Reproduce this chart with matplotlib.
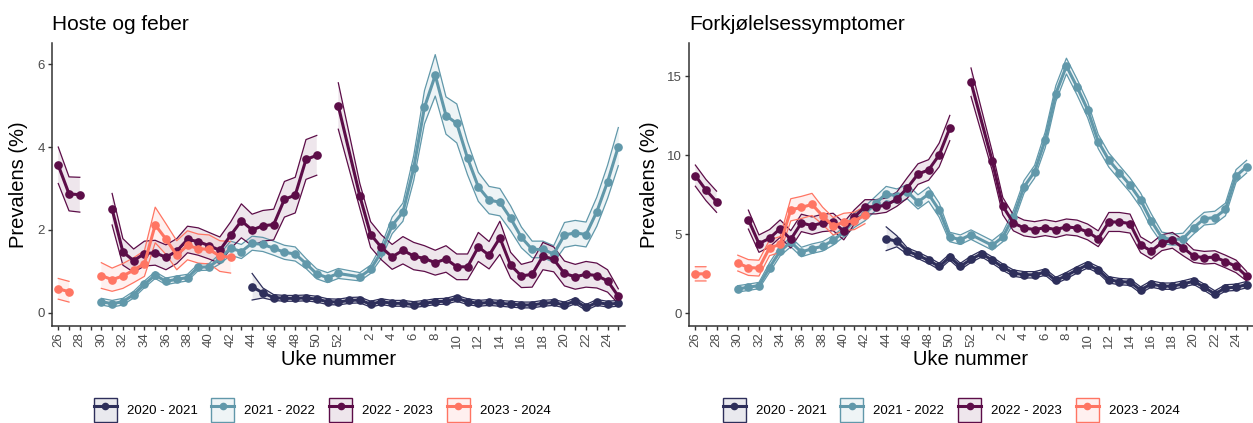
import numpy as np
import matplotlib
matplotlib.use("Agg")
import matplotlib.pyplot as pyplot
from matplotlib.lines import Line2D
from matplotlib.patches import Patch
from matplotlib.colors import to_rgba

pyplot.rcParams["font.family"] = ["Liberation Sans", "DejaVu Sans"]

# uke-rekkefølge på x-aksen: sesongen går fra uke 26 til uke 25 året etter
WEEK_ORDER = list(range(26, 54)) + list(range(1, 26))
SEASONS = ["2020 - 2021", "2021 - 2022", "2022 - 2023", "2023 - 2024"]
COLORS = ["#2E2F5B", "#6198AA", "#5C0D48", "#FF7563"]

# uker med rader i dataene (None = manglende verdi -> brudd i linja)
weeks_2021 = list(range(44, 54)) + list(range(1, 26))
weeks_2122 = list(range(30, 53)) + list(range(1, 26))
weeks_2223 = list(range(26, 53)) + list(range(1, 26))
weeks_2324 = list(range(26, 43))

# ---- Hoste og feber ----
hoste_2021 = [0.63, 0.48, 0.37, 0.35, 0.35, 0.36, 0.33, 0.27, 0.26, 0.30,
              0.31, 0.21, 0.27, 0.23, 0.23, 0.20, 0.23, 0.27, 0.28, 0.35, 0.27, 0.23, 0.25,
              0.23, 0.21, 0.19, 0.19, 0.23, 0.25, 0.19, 0.29, 0.13, 0.25, 0.21, 0.23]
hoste_2021_ci = [0.32, 0.12] + [0.07] * 33

hoste_2122 = [0.27, 0.22, 0.27, 0.44, 0.69, 0.91, 0.76, 0.81, 0.85, 1.10, 1.11,
              1.30, 1.56, 1.48, 1.68, 1.65, 1.56, 1.46, 1.42, 1.19, 0.94, 0.85, 0.95,
              0.87, 1.05, 1.47, 2.11, 2.43, 3.49, 4.96, 5.73, 4.76, 4.57, 3.73, 3.04,
              2.72, 2.67, 2.28, 1.82, 1.53, 1.53, 1.42, 1.88, 1.93, 1.89, 2.44, 3.16, 4.01]
hoste_2122_ci = [0.08] * 11 + [0.12] + [0.17] * 7 + [0.12] * 4 + \
                [0.10, 0.10, 0.15, 0.20, 0.22, 0.30, 0.40, 0.50, 0.45, 0.47, 0.40, 0.35,
                 0.33, 0.33, 0.30, 0.25, 0.20, 0.20, 0.20, 0.30, 0.30, 0.30, 0.35, 0.40, 0.46]

hoste_2223 = [3.56, 2.87, 2.85, None, None, 2.50, 1.47, 1.26, 1.43, 1.45, 1.34, 1.49,
              1.77, 1.72, 1.62, 1.51, 1.87, 2.22, 2.00, 2.10, 2.13, 2.74, 2.84, 3.70,
              3.80, None, 4.99,
              2.82, 1.89, 1.58, 1.35, 1.51, 1.37, 1.31, 1.21, 1.30, 1.11, 1.11, 1.59,
              1.39, 1.81, 1.15, 0.89, 0.93, 1.37, 1.29, 0.95, 0.87, 0.93, 0.90, 0.77, 0.40]
hoste_2223_ci = [0.44, 0.41, 0.42, None, None, 0.38, 0.32, 0.28, 0.30, 0.30, 0.30, 0.30,
                 0.32, 0.33, 0.32, 0.32, 0.32, 0.41, 0.38, 0.37, 0.37, 0.43, 0.43, 0.48,
                 0.48, None, 0.56,
                 0.30, 0.31, 0.30, 0.30, 0.33, 0.33, 0.31, 0.30, 0.32, 0.31, 0.31, 0.35,
                 0.33, 0.40, 0.31, 0.28, 0.31, 0.33, 0.30, 0.30, 0.30, 0.31, 0.30, 0.27, 0.18]

hoste_2324 = [0.58, 0.51, None, None, 0.90, 0.80, 0.89, 1.03, 1.19, 2.12, 1.78, 1.39,
              1.63, 1.55, 1.53, 1.37, 1.34]
hoste_2324_ci = [0.25, 0.25, None, None, 0.31, 0.28, 0.30, 0.30, 0.31, 0.43, 0.37, 0.35,
                 0.35, 0.35, 0.35, 0.37, 0.38]

# ---- Forkjølelsessymptomer ----
fork_2021 = [4.72, 4.56, 3.94, 3.67, 3.35, 2.97, 3.56, 2.97, 3.42, 3.77,
             3.37, 2.92, 2.55, 2.44, 2.44, 2.61, 2.08, 2.39, 2.75, 3.07, 2.75, 2.12, 2.01,
             1.97, 1.48, 1.86, 1.72, 1.72, 1.86, 2.03, 1.65, 1.23, 1.61, 1.65, 1.82]
fork_2021_ci = [0.75, 0.35] + [0.20] * 33

fork_2122 = [1.55, 1.65, 1.76, 2.90, 3.94, 4.51, 3.88, 4.09, 4.24, 4.62, 5.15,
             5.89, 6.31, 6.95, 7.58, 7.42, 7.69, 7.05, 7.54, 6.53, 4.83, 4.66, 4.98,
             4.30, 4.83, 6.10, 8.00, 8.96, 10.97, 13.90, 15.64, 14.32, 12.88, 10.87, 9.70,
             8.90, 8.11, 7.16, 5.85, 4.79, 4.66, 4.72, 5.42, 5.99, 6.06, 6.57, 8.69, 9.28]
fork_2122_ci = [0.20] * 3 + [0.30] * 8 + [0.45] * 9 + [0.30] * 5 + [0.40] * 3 + \
               [0.50] * 5 + [0.45] * 6 + [0.35] * 3 + [0.40] * 6

fork_2223 = [8.71, 7.80, 7.06, None, None, 5.93, 4.41, 4.75, 5.36, 4.68, 5.72, 5.55,
             5.72, 5.78, 5.20, 6.10, 6.74, 6.74, 6.84, 7.22, 7.94, 8.81, 9.07, 10.02,
             11.72, None, 14.62,
             9.64, 6.78, 5.72, 5.40, 5.30, 5.42, 5.30, 5.47, 5.40, 5.15, 4.72, 5.78,
             5.78, 5.68, 4.34, 3.94, 4.47, 4.62, 4.15, 3.62, 3.52, 3.56, 3.28, 2.97, 2.35]
fork_2223_ci = [0.67, 0.67, 0.67, None, None, 0.60] + [0.55] * 9 + [0.45] * 5 + \
               [0.65, 0.65, 0.65, 0.75, 0.80, None, 0.90, 0.60, 0.55] + [0.50] * 9 + \
               [0.60] * 3 + [0.50] * 5 + [0.40] * 5 + [0.30]

fork_2324 = [2.50, 2.50, None, None, 3.18, 2.90, 2.86, 4.15, 4.36, 6.55, 6.70, 6.89,
             6.17, 5.51, 5.78, 5.85, 6.22]
fork_2324_ci = [0.45, 0.45, None, None] + [0.50] * 5 + [0.70] * 3 + [0.55] * 5

# tick-etiketter: bare partallsuker vises
tick_labels = [str(w) if w % 2 == 0 else "" for w in WEEK_ORDER]

W, H = 1253, 423
fig = pyplot.figure(figsize=(W / 100, H / 100), dpi=100)


def draw_panel(ax, title, ylim, yticks, ylab_x, series):
    lines = []
    for (weeks, vals, ci), color in zip(series, COLORS):
        x = np.array([WEEK_ORDER.index(w) for w in weeks])
        v = np.array([np.nan if a is None else a for a in vals], dtype=float)
        c = np.array([np.nan if a is None else a for a in ci], dtype=float)
        lo, hi = v - c, v + c
        ax.fill_between(x, lo, hi, color=color, alpha=0.1, lw=0, zorder=1)
        ax.plot(x, lo, color=color, lw=0.9, zorder=2)
        ax.plot(x, hi, color=color, lw=0.9, zorder=2)
        lines.append((x, v, color))
    for x, v, color in lines:
        ax.plot(x, v, color=color, lw=2.2, marker="o", ms=5.2, zorder=3)

    ax.set_xlim(-0.6, len(WEEK_ORDER) - 0.4)
    ax.set_ylim(*ylim)
    ax.set_xticks(range(len(WEEK_ORDER)))
    ax.set_xticklabels(tick_labels, rotation=90, fontsize=9.5, color="#4D4D4D")
    ax.set_yticks(yticks)
    ax.set_yticklabels([str(t) for t in yticks], fontsize=9.5, color="#4D4D4D")
    ax.tick_params(length=3, width=1, color="#333333", pad=2)
    for s in ["top", "right"]:
        ax.spines[s].set_visible(False)
    for s in ["left", "bottom"]:
        ax.spines[s].set_color("#333333")
        ax.spines[s].set_linewidth(1.1)
    ax.set_xlabel("Uke nummer", fontsize=14.5)
    ax.xaxis.set_label_coords(0.5, -0.085)
    ax.set_ylabel("Prevalens (%)", fontsize=14.5)
    ax.yaxis.set_label_coords(ylab_x, 0.5)
    ax.text(0.0, 1 + 13 / 282.7, title, transform=ax.transAxes, fontsize=15,
            ha="left", va="baseline")


ax_b = (H - 325.7) / H
ax_h = 282.7 / H
ax1 = fig.add_axes([51.8 / W, ax_b, 573 / W, ax_h])
ax2 = fig.add_axes([689 / W, ax_b, 564 / W, ax_h])

draw_panel(ax1, "Hoste og feber", (-0.31, 6.51), [0, 2, 4, 6], -0.042, [
    (weeks_2021, hoste_2021, hoste_2021_ci),
    (weeks_2122, hoste_2122, hoste_2122_ci),
    (weeks_2223, hoste_2223, hoste_2223_ci),
    (weeks_2324, hoste_2324, hoste_2324_ci),
])
draw_panel(ax2, "Forkjølelsessymptomer", (-0.78, 17.1), [0, 5, 10, 15], -0.054, [
    (weeks_2021, fork_2021, fork_2021_ci),
    (weeks_2122, fork_2122, fork_2122_ci),
    (weeks_2223, fork_2223, fork_2223_ci),
    (weeks_2324, fork_2324, fork_2324_ci),
])

# legender under hvert panel
handles = [(Patch(facecolor=to_rgba(c, 0.1), edgecolor=c, lw=1),
            Line2D([], [], color=c, lw=2.2, marker="o", ms=4.5)) for c in COLORS]
for xc in [322, 951]:
    fig.legend(handles, SEASONS, loc="center", bbox_to_anchor=(xc / W, (H - 410) / H),
               ncol=4, frameon=False, fontsize=9.5, handlelength=1.75, handleheight=2.4,
               handletextpad=0.75, columnspacing=1.05)

fig.savefig("out.png", dpi=100)
